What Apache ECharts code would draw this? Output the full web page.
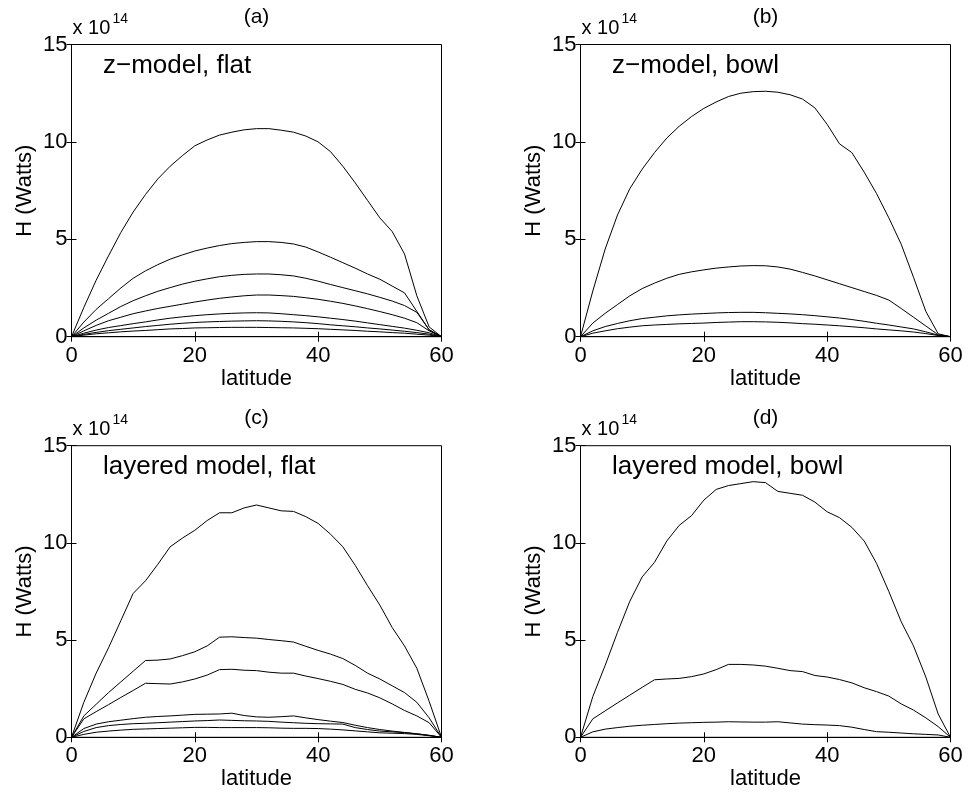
<!DOCTYPE html>
<html>
<head>
<meta charset="utf-8">
<script src="https://cdn.jsdelivr.net/npm/echarts@6/dist/echarts.min.js"></script>
<style>
html,body{margin:0;padding:0;background:#fff;}
#chart{width:968px;height:797px;}
</style>
</head>
<body>
<div id="chart"></div>
<script>
// ---------- data (values in units of 1e14 W) ----------
const lat = [0,2,4,6,8,10,12,14,16,18,20,22,24,26,28,30,32,34,36,38,40,42,44,46,48,50,52,54,56,58,60];
const xTicks = [0,20,40,60];
const yTicks = [0,5,10,15];

// (a) z-model, flat
const a1 = [0,1.5,2.9,4.15,5.35,6.4,7.3,8.1,8.75,9.3,9.8,10.1,10.35,10.5,10.62,10.68,10.68,10.6,10.5,10.3,10.0,9.5,8.75,7.9,7.0,6.1,5.4,4.25,2.1,0.5,0];
const a2 = [0,0.75,1.4,1.95,2.5,3.0,3.38,3.7,3.98,4.2,4.4,4.55,4.68,4.78,4.84,4.88,4.88,4.84,4.76,4.6,4.35,4.08,3.8,3.52,3.22,2.95,2.6,2.25,1.3,0.35,0];
const a3 = [0,0.45,0.85,1.2,1.55,1.85,2.1,2.33,2.52,2.7,2.85,2.97,3.08,3.15,3.2,3.22,3.22,3.18,3.12,3.0,2.85,2.68,2.52,2.36,2.2,2.02,1.83,1.6,1.25,0.35,0];
const a4 = [0,0.3,0.58,0.82,1.0,1.18,1.32,1.45,1.56,1.67,1.78,1.88,1.97,2.04,2.1,2.14,2.14,2.11,2.07,2.0,1.92,1.82,1.71,1.58,1.44,1.29,1.13,0.95,0.72,0.3,0];
const a5 = [0,0.18,0.34,0.47,0.57,0.67,0.76,0.86,0.95,1.02,1.08,1.13,1.17,1.2,1.22,1.23,1.22,1.18,1.13,1.08,1.02,0.95,0.88,0.8,0.71,0.62,0.53,0.44,0.33,0.2,0];
const a6 = [0,0.12,0.22,0.31,0.38,0.45,0.52,0.58,0.64,0.69,0.73,0.76,0.78,0.8,0.81,0.82,0.81,0.79,0.76,0.72,0.67,0.61,0.56,0.51,0.45,0.4,0.34,0.28,0.21,0.13,0];
const a7 = [0,0.08,0.15,0.2,0.25,0.29,0.32,0.36,0.4,0.42,0.45,0.46,0.47,0.48,0.48,0.48,0.47,0.46,0.45,0.43,0.41,0.38,0.35,0.32,0.28,0.25,0.21,0.18,0.13,0.08,0];

// (b) z-model, bowl
const b1 = [0,2.35,4.5,6.25,7.6,8.6,9.45,10.2,10.8,11.3,11.72,12.05,12.33,12.5,12.58,12.6,12.55,12.42,12.2,11.75,10.9,9.9,9.45,8.45,7.35,6.1,4.75,3.05,1.3,0.15,0];
const b2 = [0,0.7,1.2,1.65,2.1,2.47,2.75,3.0,3.2,3.33,3.43,3.52,3.58,3.63,3.65,3.64,3.58,3.47,3.3,3.12,2.92,2.72,2.52,2.32,2.12,1.88,1.45,1.0,0.55,0.1,0];
const b3 = [0,0.3,0.52,0.68,0.82,0.93,1.0,1.07,1.12,1.16,1.19,1.22,1.24,1.25,1.25,1.23,1.2,1.17,1.13,1.08,1.02,0.96,0.88,0.79,0.69,0.6,0.5,0.4,0.25,0.08,0];
const b4 = [0,0.18,0.3,0.41,0.49,0.56,0.6,0.63,0.66,0.68,0.7,0.73,0.75,0.77,0.77,0.76,0.74,0.71,0.67,0.64,0.6,0.56,0.51,0.46,0.4,0.35,0.3,0.24,0.16,0.06,0];

// (c) layered model, flat
const c1 = [0,1.8,3.3,4.6,6.0,7.4,8.05,8.9,9.8,10.25,10.65,11.15,11.55,11.55,11.8,11.95,11.8,11.65,11.62,11.35,11.0,10.45,9.8,8.85,7.8,6.8,5.65,4.7,3.55,1.85,0];
const c2 = [0,1.1,1.7,2.3,2.85,3.4,3.95,3.97,4.03,4.2,4.4,4.7,5.15,5.17,5.13,5.1,5.03,4.97,4.9,4.68,4.47,4.28,4.05,3.7,3.3,3.0,2.65,2.3,1.8,1.0,0];
const c3 = [0,0.95,1.32,1.68,2.05,2.41,2.78,2.76,2.74,2.85,3.0,3.2,3.48,3.5,3.45,3.43,3.35,3.3,3.3,3.15,3.02,2.88,2.72,2.47,2.28,2.03,1.72,1.38,1.1,0.75,0];
const c4 = [0,0.45,0.68,0.8,0.88,0.96,1.03,1.07,1.1,1.14,1.18,1.19,1.2,1.24,1.12,1.05,1.03,1.06,1.1,1.0,0.91,0.83,0.76,0.62,0.5,0.4,0.32,0.25,0.18,0.1,0];
const c5 = [0,0.3,0.5,0.6,0.66,0.7,0.72,0.75,0.78,0.81,0.84,0.86,0.89,0.87,0.85,0.84,0.82,0.78,0.75,0.72,0.7,0.69,0.68,0.5,0.4,0.32,0.28,0.24,0.18,0.1,0];
const c6 = [0,0.15,0.26,0.32,0.37,0.41,0.43,0.45,0.47,0.49,0.51,0.51,0.5,0.5,0.5,0.5,0.49,0.47,0.46,0.46,0.45,0.42,0.38,0.33,0.28,0.23,0.21,0.19,0.15,0.08,0];

// (d) layered model, bowl
const d1 = [0,2.1,3.7,5.4,7.0,8.25,9.0,10.1,10.9,11.4,12.2,12.75,12.95,13.05,13.15,13.1,12.65,12.55,12.45,12.1,11.6,11.3,10.8,10.1,8.95,7.5,5.95,4.7,3.1,1.2,0];
const d2 = [0,0.95,1.36,1.77,2.17,2.57,2.96,3.0,3.03,3.12,3.26,3.48,3.75,3.75,3.72,3.66,3.55,3.43,3.38,3.18,3.1,2.97,2.8,2.55,2.35,2.12,1.72,1.4,1.0,0.55,0];
const d3 = [0,0.28,0.42,0.5,0.57,0.62,0.66,0.7,0.73,0.75,0.77,0.78,0.8,0.79,0.78,0.78,0.8,0.74,0.68,0.65,0.63,0.6,0.52,0.4,0.29,0.26,0.22,0.18,0.15,0.12,0];

const panelTitles = ['(a)','(b)','(c)','(d)'];
const panelNotes = ['z\u2212model, flat','z\u2212model, bowl','layered model, flat','layered model, bowl'];
const panelSeries = [[a1,a2,a3,a4,a5,a6,a7],[b1,b2,b3,b4],[c1,c2,c3,c4,c5,c6],[d1,d2,d3]];
const xName = 'latitude';
const yName = 'H (Watts)';
const scaleBase = 'x 10';
const scaleExp = '14';

// ---------- layout ----------
const FONT = "'Liberation Sans', Arial, Helvetica, sans-serif";
const boxes = [
  {left:71.5, top:44.5, height:292.2},
  {left:580.5, top:44.5, height:292.2},
  {left:71.5, top:445.7, height:291.6},
  {left:580.5, top:445.7, height:291.6}
];
const W = 370;

const grid = [], xAxis = [], yAxis = [], series = [], graphic = [];
boxes.forEach((b, i) => {
  grid.push({left:b.left, top:b.top, width:W, height:b.height, show:true,
             borderColor:'#000', borderWidth:1, backgroundColor:'#fff'});
  const tick = {show:true, inside:true, length:5, lineStyle:{color:'#000', width:1}};
  const line = {show:true, lineStyle:{color:'#000', width:1}};
  xAxis.push({gridIndex:i, type:'value', min:xTicks[0], max:xTicks[xTicks.length-1], interval:xTicks[1]-xTicks[0],
    axisLine:line, axisTick:tick, splitLine:{show:false},
    axisLabel:{color:'#000', fontSize:22, fontFamily:FONT, margin:8},
    name:xName, nameLocation:'middle', nameGap:29,
    nameTextStyle:{color:'#000', fontSize:22, fontFamily:FONT}});
  xAxis.push({gridIndex:i, type:'value', position:'top', min:xTicks[0], max:xTicks[xTicks.length-1], interval:xTicks[1]-xTicks[0],
    axisLine:line, axisTick:tick, splitLine:{show:false}, axisLabel:{show:false}});
  yAxis.push({gridIndex:i, type:'value', min:yTicks[0], max:yTicks[yTicks.length-1], interval:yTicks[1]-yTicks[0],
    axisLine:line, axisTick:tick, splitLine:{show:false},
    axisLabel:{color:'#000', fontSize:22, fontFamily:FONT, margin:4},
    name:yName, nameLocation:'middle', nameGap:36,
    nameTextStyle:{color:'#000', fontSize:22, fontFamily:FONT}});
  yAxis.push({gridIndex:i, type:'value', position:'right', min:yTicks[0], max:yTicks[yTicks.length-1], interval:yTicks[1]-yTicks[0],
    axisLine:line, axisTick:tick, splitLine:{show:false}, axisLabel:{show:false}});

  panelSeries[i].forEach(arr => {
    series.push({type:'line', xAxisIndex:2*i, yAxisIndex:2*i, showSymbol:false, symbol:'none',
      silent:true, animation:false, lineStyle:{color:'#000', width:1},
      data: lat.map((x, k) => [x, arr[k]])});
  });

  const cx = b.left + W/2;
  graphic.push({type:'text', x:cx, y:b.top - 27, style:{text:panelTitles[i], fill:'#000', font:'21px ' + FONT, textAlign:'center', textVerticalAlign:'middle'}});
  graphic.push({type:'text', x:b.left + 1, y:b.top - 16.5, style:{text:scaleBase, fill:'#000', font:'20px ' + FONT, textAlign:'left', textVerticalAlign:'middle'}});
  graphic.push({type:'text', x:b.left + 41, y:b.top - 25.5, style:{text:scaleExp, fill:'#000', font:'14px ' + FONT, textAlign:'left', textVerticalAlign:'middle'}});
  graphic.push({type:'text', x:b.left + 31.5, y:b.top + 21.5, style:{text:panelNotes[i], fill:'#000', font:'26px ' + FONT, textAlign:'left', textVerticalAlign:'middle'}});
});

const chart = echarts.init(document.getElementById('chart'), null, {renderer:'canvas'});
chart.setOption({
  backgroundColor:'#fff',
  animation:false,
  grid, xAxis, yAxis, series, graphic
});
</script>
</body>
</html>
